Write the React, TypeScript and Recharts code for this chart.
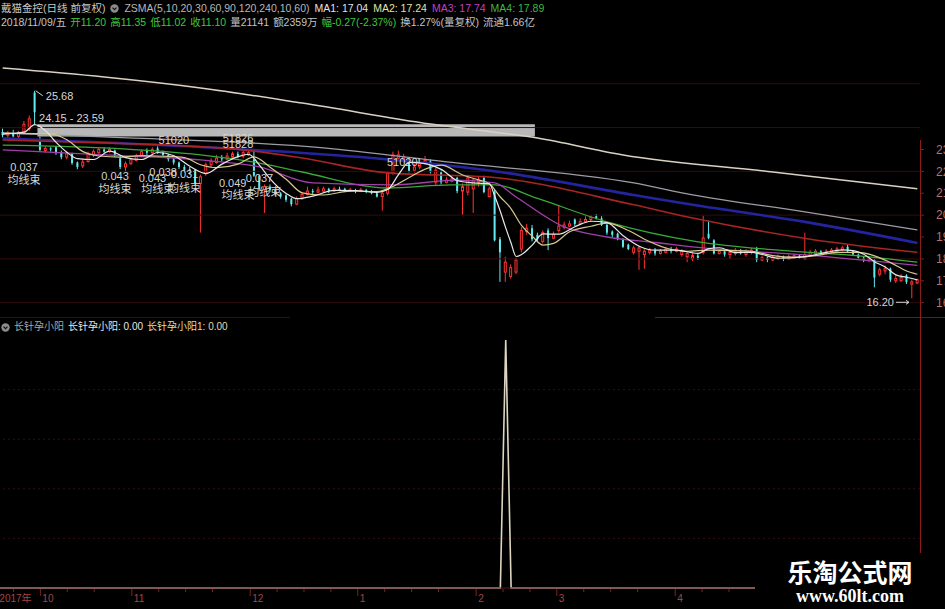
import React from "react";
import {
  ComposedChart,
  Bar,
  Line,
  XAxis,
  YAxis,
  ReferenceArea,
  ReferenceLine,
  ReferenceDot,
} from "recharts";

// 日K (前复权), one entry per trading day, Sep 2017 .. Jun 2018
const opens = [
  23.8, 23.65, 23.75, 23.6, 23.78, 23.95, 25.6, 23.43, 22.95, 23.05,
  23.1, 22.88, 22.65, 22.8, 22.4, 22.25, 22.45, 22.75, 22.85, 23.0,
  22.9, 22.95, 22.6, 22.2, 22.35, 22.5, 22.7, 22.95, 22.85, 23.05,
  22.85, 22.75, 22.55, 22.4, 22.2, 22.1, 22.05, 21.45, 21.9, 22.3,
  22.4, 22.6, 22.55, 22.65, 22.8, 22.7, 22.75, 22.55, 21.8, 21.15,
  21.3, 21.15, 21.0, 20.9, 20.75, 20.5, 20.75, 20.95, 21.1, 21.05,
  21.1, 21.2, 21.1, 21.2, 21.2, 21.1, 21.15, 21.1, 21.15, 21.1,
  21.0, 20.85, 21.0, 21.9, 22.6, 22.5, 22.45, 22.05, 22.2, 22.4,
  22.45, 21.5, 21.95, 21.5, 21.55, 21.7, 21.1, 21.05, 21.2, 21.5,
  21.7, 20.85, 21.05, 18.9, 17.4, 17.2, 17.4, 18.45, 19.25, 19.4,
  19.1, 18.8, 19.3, 18.95, 19.3, 19.45, 19.5, 19.8, 19.6, 19.7,
  19.8, 19.95, 19.85, 19.55, 19.25, 19.15, 18.9, 18.65, 18.3, 18.35,
  18.2, 18.3, 18.4, 18.25, 18.3, 18.45, 18.35, 18.2, 18.1, 18.0,
  18.15, 18.3, 19.15, 18.85, 18.25, 18.35, 18.2, 18.25, 18.35, 18.2,
  18.3, 18.45, 17.95, 18.05, 17.95, 18.0, 18.1, 18.0, 18.05, 18.15,
  18.0, 18.15, 18.25, 18.35, 18.25, 18.3, 18.35, 18.4, 18.55, 18.35,
  18.2, 18.05, 17.95, 17.95, 17.3, 17.45, 17.55, 17.0, 17.0, 17.25,
  16.85, 16.9,
];
const highs = [
  23.95, 23.85, 23.9, 23.85, 24.3, 24.55, 25.68, 23.59, 23.15, 23.1,
  23.15, 22.95, 22.9, 22.85, 22.45, 22.55, 22.9, 23.0, 23.1, 23.1,
  23.1, 23.0, 22.7, 22.45, 22.6, 22.8, 23.0, 23.05, 23.1, 23.15,
  22.95, 22.8, 22.6, 22.45, 22.3, 22.2, 22.1, 21.85, 22.4, 22.6,
  22.75, 22.75, 22.85, 22.9, 22.9, 22.95, 23.0, 22.9, 21.85, 21.4,
  21.4, 21.2, 21.05, 20.95, 20.8, 20.85, 21.05, 21.3, 21.2, 21.3,
  21.3, 21.25, 21.3, 21.3, 21.25, 21.25, 21.2, 21.25, 21.2, 21.15,
  21.05, 21.1, 22.0, 22.9, 22.95, 22.8, 22.6, 22.35, 22.55, 22.7,
  22.55, 22.15, 22.05, 21.75, 21.8, 21.75, 21.45, 21.85, 21.7, 21.75,
  21.8, 21.3, 21.15, 19.0, 18.1, 17.75, 18.05, 19.45, 19.6, 19.55,
  19.2, 19.3, 19.4, 19.25, 20.45, 19.7, 19.75, 19.85, 19.85, 19.95,
  20.0, 20.05, 19.95, 19.6, 19.3, 19.2, 18.95, 18.7, 18.6, 18.6,
  18.45, 18.5, 18.5, 18.45, 18.55, 18.55, 18.55, 18.45, 18.35, 18.3,
  18.25, 19.98, 19.75, 18.9, 18.45, 18.45, 18.4, 18.5, 18.45, 18.45,
  18.5, 18.55, 18.15, 18.1, 18.15, 18.2, 18.15, 18.2, 18.25, 18.2,
  19.2, 18.4, 18.45, 18.4, 18.45, 18.5, 18.55, 18.6, 18.65, 18.4,
  18.25, 18.1, 18.1, 18.0, 17.6, 17.7, 17.6, 17.25, 17.3, 17.3,
  17.05, 17.1,
];
const lows = [
  23.55, 23.5, 23.55, 23.5, 23.7, 23.85, 24.15, 22.9, 22.85, 22.9,
  22.75, 22.55, 22.55, 22.3, 22.1, 22.15, 22.4, 22.65, 22.8, 22.85,
  22.85, 22.65, 22.1, 21.95, 22.3, 22.45, 22.65, 22.75, 22.8, 22.8,
  22.7, 22.45, 22.3, 22.1, 21.95, 21.85, 21.35, 19.2, 21.8, 22.2,
  22.35, 22.45, 22.5, 22.55, 22.6, 22.6, 22.7, 21.75, 21.1, 20.1,
  21.05, 20.85, 20.75, 20.6, 20.4, 20.45, 20.7, 20.9, 20.95, 21.0,
  21.05, 21.0, 21.05, 21.1, 21.05, 21.05, 21.0, 21.05, 21.0, 20.95,
  20.8, 20.2, 20.9, 21.85, 22.5, 22.4, 21.95, 21.95, 22.1, 22.3,
  21.9, 21.35, 21.4, 21.45, 21.5, 21.0, 20.0, 20.9, 20.1, 21.3,
  21.0, 20.8, 18.8, 16.95, 16.95, 17.1, 17.3, 18.3, 19.1, 18.8,
  18.8, 18.7, 18.4, 18.9, 19.2, 19.35, 19.45, 19.5, 19.55, 19.65,
  19.7, 19.8, 19.5, 19.1, 19.0, 18.85, 18.5, 18.4, 18.2, 17.5,
  17.55, 18.2, 18.15, 18.2, 18.25, 18.25, 18.3, 18.1, 17.85, 17.9,
  17.95, 18.2, 18.9, 18.2, 18.2, 18.1, 18.0, 18.15, 18.2, 18.1,
  18.2, 17.85, 17.9, 17.85, 17.9, 17.95, 17.9, 17.95, 18.0, 18.0,
  17.95, 18.1, 18.2, 18.2, 18.2, 18.25, 18.3, 18.35, 18.3, 18.15,
  17.95, 17.85, 17.85, 16.7, 17.2, 17.3, 16.95, 16.9, 16.95, 16.85,
  16.2, 16.85,
];
const closes = [
  23.65, 23.75, 23.6, 23.78, 24.15, 24.4, 24.7, 22.98, 23.05, 23.0,
  22.85, 22.65, 22.8, 22.38, 22.2, 22.42, 22.8, 22.9, 23.0, 22.9,
  23.0, 22.7, 22.2, 22.35, 22.55, 22.7, 22.9, 22.85, 23.0, 22.85,
  22.75, 22.55, 22.4, 22.2, 22.05, 21.95, 21.45, 21.75, 22.3, 22.45,
  22.6, 22.55, 22.7, 22.8, 22.7, 22.85, 22.85, 21.8, 21.2, 21.3,
  21.15, 20.95, 20.85, 20.7, 20.5, 20.75, 20.95, 21.1, 21.05, 21.15,
  21.2, 21.1, 21.2, 21.15, 21.1, 21.15, 21.1, 21.15, 21.1, 21.0,
  20.85, 21.0, 21.9, 22.75, 22.75, 22.65, 22.0, 22.2, 22.4, 22.5,
  22.0, 22.05, 21.5, 21.6, 21.65, 21.1, 21.3, 21.7, 21.6, 21.6,
  21.05, 21.2, 18.85, 18.3, 17.85, 17.6, 17.95, 19.3, 19.4, 18.9,
  18.9, 19.2, 18.95, 19.1, 19.5, 19.55, 19.6, 19.6, 19.7, 19.8,
  19.9, 19.85, 19.55, 19.2, 19.1, 18.9, 18.55, 18.45, 18.5, 18.5,
  18.35, 18.4, 18.25, 18.35, 18.45, 18.35, 18.45, 18.35, 18.25, 18.15,
  18.05, 18.95, 18.95, 18.25, 18.35, 18.2, 18.3, 18.35, 18.25, 18.35,
  18.4, 17.95, 18.05, 17.95, 18.05, 18.1, 18.0, 18.1, 18.15, 18.05,
  18.2, 18.3, 18.35, 18.25, 18.35, 18.4, 18.45, 18.5, 18.35, 18.2,
  18.05, 17.95, 18.0, 17.15, 17.5, 17.55, 17.05, 17.1, 17.15, 16.95,
  16.95, 17.05,
];

// moving averages: [day index, value]
const ma5Pts = [
  [0, 23.7], [4, 23.79], [6, 24.13], [8, 23.86], [10, 23.32], [12, 22.87], [14, 22.58],
  [17, 22.54], [20, 22.92], [23, 22.63], [26, 22.54], [29, 22.86], [32, 22.71], [35, 22.23],
  [38, 21.9], [41, 22.33], [44, 22.67], [46, 22.78], [48, 22.28], [50, 21.66], [53, 20.99],
  [55, 20.75], [58, 20.87], [62, 21.13], [66, 21.12], [70, 21.04], [72, 21.17], [74, 21.85],
  [76, 22.41], [79, 22.35], [82, 22.09], [85, 21.58], [88, 21.47], [91, 21.43], [92, 20.86],
  [93, 20.2], [94, 19.45], [95, 18.76], [96, 18.11], [97, 18.2], [99, 18.63], [101, 19.14],
  [104, 19.13], [107, 19.47], [110, 19.72], [113, 19.66], [116, 19.06], [119, 18.58],
  [122, 18.4], [126, 18.4], [130, 18.25], [132, 18.47], [134, 18.51], [137, 18.29],
  [140, 18.3], [142, 18.2], [145, 18.03], [150, 18.1], [154, 18.3], [157, 18.41],
  [159, 18.38], [161, 18.21], [163, 17.87], [165, 17.63], [167, 17.27], [169, 17.16], [171, 17.04],
];
const ma10Pts = [
  [0, 23.75], [9, 23.71], [12, 23.44], [15, 22.9], [18, 22.7], [22, 22.65], [26, 22.72],
  [30, 22.69], [34, 22.63], [37, 22.3], [40, 22.17], [44, 22.33], [47, 22.66], [50, 22.19],
  [53, 21.64], [56, 21.02], [60, 20.92], [65, 21.1], [70, 21.08], [73, 21.31], [76, 21.72],
  [79, 22.1], [82, 22.28], [86, 21.83], [89, 21.61], [91, 21.43], [93, 20.84], [95, 20.31],
  [97, 19.53], [99, 19.04], [101, 18.63], [103, 18.71], [106, 19.24], [110, 19.49],
  [113, 19.63], [117, 19.3], [120, 18.9], [124, 18.5], [128, 18.35], [132, 18.4],
  [136, 18.38], [140, 18.35], [144, 18.15], [148, 18.08], [152, 18.15], [156, 18.3],
  [160, 18.3], [163, 18.14], [166, 17.83], [169, 17.45], [171, 17.3],
];
const ma20Pts = [
  [0, 22.98], [19, 22.75], [37, 22.52], [48, 22.2], [58, 21.47], [73, 21.38], [85, 21.6],
  [92, 21.47], [96, 20.83], [105, 19.46], [113, 19.0], [122, 18.75], [131, 18.5],
  [150, 18.18], [171, 17.7],
];
const ma30Pts = [
  [0, 23.2], [19, 23.07], [37, 22.75], [48, 22.38], [56, 21.97], [72, 21.24], [84, 21.38],
  [92, 21.38], [100, 20.76], [113, 19.69], [130, 18.78], [145, 18.4], [160, 18.14], [171, 17.85],
];
const ma60Pts = [
  [0, 23.43], [19, 23.3], [45, 22.98], [56, 22.61], [72, 21.93], [91, 21.74], [118, 20.47],
  [129, 19.87], [151, 18.9], [171, 18.3],
];
const ma90Pts = [
  [0, 23.5], [37, 23.11], [69, 22.61], [93, 21.97], [118, 20.92], [129, 20.47],
  [150, 19.69], [171, 18.73],
];
const ma120Pts = [
  [0, 23.75], [19, 23.57], [60, 23.07], [83, 22.43], [118, 21.47], [129, 20.92],
  [150, 20.15], [171, 19.32],
];
const ma240Pts = [
  [0, 26.72], [19, 26.31], [37, 25.81], [56, 25.12], [80, 24.16], [100, 23.52],
  [116, 22.75], [144, 21.97], [171, 21.2],
];

// 长针孕小阳 signal days
const signalDays = [94];

// unfilled gap
const gapFrom = 7;
const gapTo = 99;
const gapLow = 23.59;
const gapHigh = 24.15;

// formula text marks: day index, price level, text
const noteIdx = [4, 4, 21, 21, 28, 29, 30, 34, 34, 43, 44, 48, 49, 32, 44, 44, 75];
const notePrice = [
  22.02, 21.42, 21.61, 21.01, 21.52, 21.01, 21.79, 21.7, 21.06, 21.29, 20.74, 21.52, 20.88,
  23.25, 23.34, 23.07, 22.25,
];
const noteText = [
  "0.037", "均线束", "0.043", "均线束", "0.043", "均线束", "0.038", "0.031", "均线束",
  "0.049", "均线束", "0.037", "均线束", "51020", "51826", "51828", "51020!",
];

const priceTicks = [16, 17, 18, 19, 20, 21, 22, 23];
const priceGrid = [16, 18, 20, 22, 24, 26];
const signalGrid = [0.2, 0.4, 0.6, 0.8];

const monthTicks = [0, 8, 25, 47, 67, 89, 104, 126, 145];
const monthLabels = ["2017年", "10", "11", "12", "1", "2", "3", "4", "5"];
const minorTicks = [3, 13, 18, 30, 35, 40, 52, 57, 62, 72, 77, 82, 94, 99, 109, 114, 119, 131, 136, 141, 150, 155, 160, 165];
const axisTicks = [...monthTicks, ...minorTicks].sort((a, b) => a - b);

const UP = "#ff3434";
const DOWN = "#62eaf0";
const AXIS = "#8a1c1c";
const NOTE = "#d6d6d6";
const BAND = 920 / closes.length;

const maLines = [
  { key: "ma240", color: "#d9d2c2", w: 1.5 },
  { key: "ma120", color: "#9c9ca6", w: 1.3 },
  { key: "ma90", color: "#2424a0", w: 2.6 },
  { key: "ma60", color: "#a82424", w: 1.6 },
  { key: "ma30", color: "#3aa83a", w: 1.3 },
  { key: "ma20", color: "#a040a8", w: 1.3 },
  { key: "ma10", color: "#d6c88e", w: 1.2 },
  { key: "ma5", color: "#e8e8e8", w: 1.2 },
];

const toMap = (pts: number[][]) => new Map(pts.map(([i, v]) => [i, v]));
const maMaps: Record<string, Map<number, number>> = {
  ma5: toMap(ma5Pts),
  ma10: toMap(ma10Pts),
  ma20: toMap(ma20Pts),
  ma30: toMap(ma30Pts),
  ma60: toMap(ma60Pts),
  ma90: toMap(ma90Pts),
  ma120: toMap(ma120Pts),
  ma240: toMap(ma240Pts),
};

const rows = closes.map((c, i) => {
  const r: any = { i, o: opens[i], h: highs[i], l: lows[i], c, sig: signalDays.includes(i) ? 1 : 0 };
  for (const k in maMaps) r[k] = maMaps[k].get(i) ?? null;
  return r;
});

const highIdx = highs.indexOf(Math.max(...highs));
const lowIdx = lows.indexOf(Math.min(...lows));

function Candle(props: any) {
  const { x, y, width, height, payload } = props;
  if (!payload) return null;
  const { o, h, l, c } = payload;
  const top = Math.min(y, y + height);
  const full = Math.abs(height);
  const span = h - l || 1;
  const py = (v: number) => top + ((h - v) / span) * full;
  const up = c >= o;
  const color = up ? UP : DOWN;
  const mid = x + width / 2;
  const bodyTop = py(Math.max(o, c));
  const bodyH = Math.max(1, py(Math.min(o, c)) - bodyTop);
  return (
    <g>
      <line x1={mid} x2={mid} y1={top} y2={top + full} stroke={color} strokeWidth={1} />
      <rect
        x={x + 0.5}
        y={bodyTop}
        width={Math.max(1, width - 1)}
        height={bodyH}
        fill={up ? "#000" : color}
        stroke={up ? color : "none"}
        strokeWidth={1}
      />
    </g>
  );
}

function MonthTick(props: any) {
  const { x, y, payload } = props;
  const k = monthTicks.indexOf(payload.value);
  const left = x - BAND / 2;
  return (
    <g>
      <line x1={left} x2={left} y1={y + 1} y2={y + (k >= 0 ? 8 : 4)} stroke={AXIS} />
      {k >= 0 && (
        <text x={left + 2} y={y + 14} fill="#a84444" fontSize={10}>
          {monthLabels[k]}
        </text>
      )}
    </g>
  );
}

const headTop: [string, string][] = [
  ["ZSMA(5,10,20,30,60,90,120,240,10,60)", "#b8b8b8"],
  ["MA1: 17.04", "#e2e2e2"],
  ["MA2: 17.24", "#e8e0a8"],
  ["MA3: 17.74", "#c040c4"],
  ["MA4: 17.89", "#40b840"],
];
const headSub: [string, string][] = [
  ["2018/11/09/五", "#c4c4c4"],
  ["开11.20", "#3ec83e"],
  ["高11.35", "#3ec83e"],
  ["低11.02", "#3ec83e"],
  ["收11.10", "#3ec83e"],
  ["量21141", "#c4c4c4"],
  ["额2359万", "#c4c4c4"],
  ["幅-0.27(-2.37%)", "#3ec83e"],
  ["换1.27%(量复权)", "#c4c4c4"],
  ["流通1.66亿", "#c4c4c4"],
];
const headLow: [string, string][] = [
  ["长针孕小阳", "#a8a8a8"],
  ["长针孕小阳: 0.00", "#e8e8e8"],
  ["长针孕小阳1: 0.00", "#e2dcaa"],
];

function Dot() {
  return (
    <svg width={9} height={9} style={{ flex: "none" }}>
      <circle cx={4.5} cy={4.5} r={4.2} fill="#8c8c8c" />
      <polyline points="2.5,3.6 4.5,5.6 6.5,3.6" stroke="#111" strokeWidth={1.2} fill="none" />
    </svg>
  );
}

const rowStyle = (top: number, gap: number, size: number): React.CSSProperties => ({
  position: "absolute",
  left: 1,
  top,
  display: "flex",
  alignItems: "center",
  gap,
  fontSize: size,
  lineHeight: "12px",
  whiteSpace: "nowrap",
});

export default function App() {
  return (
    <div
      style={{
        position: "fixed",
        left: 0,
        top: 0,
        width: 945,
        height: 609,
        background: "#000",
        overflow: "hidden",
        fontFamily: '"Liberation Sans", "Noto Sans CJK SC", sans-serif',
      }}
    >
      <div style={{ position: "absolute", left: 0, top: 0 }}>
        <ComposedChart
          width={945}
          height={318}
          data={rows}
          margin={{ top: 40, right: 0, bottom: 0, left: 0 }}
          barCategoryGap={1}
        >
          <XAxis dataKey="i" hide />
          <YAxis
            orientation="right"
            domain={[15.3, 28]}
            allowDataOverflow
            ticks={priceTicks}
            width={25}
            axisLine={false}
            tickLine={{ stroke: AXIS }}
            tickSize={4}
            tickMargin={12}
            tick={{ fill: "#b87070", fontSize: 12 }}
          />
          {priceGrid.map((v) => (
            <ReferenceLine key={v} y={v} stroke="#360b0b" strokeWidth={1} />
          ))}
          <ReferenceArea
            x1={gapFrom}
            x2={gapTo}
            y1={gapLow}
            y2={gapHigh}
            fill="#b8b8b8"
            fillOpacity={1}
            stroke="none"
          />
          {maLines.map((m) => (
            <Line
              key={m.key}
              dataKey={m.key}
              type="monotone"
              stroke={m.color}
              strokeWidth={m.w}
              dot={false}
              connectNulls
              isAnimationActive={false}
            />
          ))}
          <Bar dataKey={(d: any) => [d.l, d.h]} shape={Candle} isAnimationActive={false} />
          <ReferenceDot
            x={highIdx}
            y={highs[highIdx]}
            r={0}
            shape={(p: any) => (
              <g>
                <polyline points={`${p.cx + 1},${p.cy} ${p.cx + 8},${p.cy + 5}`} stroke={NOTE} fill="none" />
                <text x={p.cx + 11} y={p.cy + 9} fill={NOTE} fontSize={11}>
                  {highs[highIdx].toFixed(2)}
                </text>
              </g>
            )}
          />
          <ReferenceDot
            x={gapFrom}
            y={gapHigh}
            r={0}
            shape={(p: any) => (
              <text x={p.cx - 1} y={p.cy - 2} fill={NOTE} fontSize={11}>
                {`${gapHigh.toFixed(2)} - ${gapLow.toFixed(2)}`}
              </text>
            )}
          />
          <ReferenceDot
            x={lowIdx}
            y={lows[lowIdx]}
            r={0}
            shape={(p: any) => (
              <g>
                <text x={p.cx - 18} y={p.cy + 8} fill={NOTE} fontSize={11} textAnchor="end">
                  {lows[lowIdx].toFixed(2)}
                </text>
                <line x1={p.cx - 16} x2={p.cx - 3} y1={p.cy + 4} y2={p.cy + 4} stroke={NOTE} />
                <polyline
                  points={`${p.cx - 6},${p.cy + 2} ${p.cx - 3},${p.cy + 4} ${p.cx - 6},${p.cy + 6}`}
                  stroke={NOTE}
                  fill="none"
                />
              </g>
            )}
          />
          {noteText.map((t, k) => (
            <ReferenceDot
              key={k}
              x={noteIdx[k]}
              y={notePrice[k]}
              r={0}
              shape={(p: any) => (
                <text x={p.cx} y={p.cy} fill={NOTE} fontSize={11} textAnchor="middle">
                  {t}
                </text>
              )}
            />
          ))}
        </ComposedChart>
      </div>

      <div style={{ position: "absolute", left: 0, top: 318 }}>
        <ComposedChart
          width={945}
          height={291}
          data={rows}
          margin={{ top: 22, right: 0, bottom: 0, left: 0 }}
        >
          <XAxis
            dataKey="i"
            ticks={axisTicks}
            interval={0}
            height={21}
            axisLine={{ stroke: "#5a1212" }}
            tickLine={false}
            tickSize={0}
            tickMargin={0}
            tick={<MonthTick />}
          />
          <YAxis
            orientation="right"
            domain={[0, 1]}
            width={25}
            axisLine={false}
            tickLine={false}
            tick={false}
          />
          {signalGrid.map((v) => (
            <ReferenceLine key={v} y={v} stroke="#3a0d0d" strokeDasharray="2 3" />
          ))}
          <Line
            dataKey="sig"
            type="linear"
            stroke="#ddd6c0"
            strokeWidth={1.6}
            dot={false}
            isAnimationActive={false}
          />
        </ComposedChart>
      </div>

      {/* header lines */}
      <div style={rowStyle(2, 5, 10.5)}>
        <span style={{ color: "#c8c8c8" }}>戴猫金控(日线 前复权)</span>
        <Dot />
        {headTop.map(([t, c]) => (
          <span key={t} style={{ color: c }}>
            {t}
          </span>
        ))}
      </div>
      <div style={rowStyle(16, 4, 10.5)}>
        {headSub.map(([t, c]) => (
          <span key={t} style={{ color: c }}>
            {t}
          </span>
        ))}
      </div>

      <div style={{ position: "absolute", left: 0, top: 317, width: 290, height: 1, background: "#3c0c0c" }} />
      <div style={{ position: "absolute", left: 655, top: 317, width: 290, height: 1, background: "#701616" }} />
      <div style={rowStyle(321, 4, 10)}>
        <Dot />
        {headLow.map(([t, c]) => (
          <span key={t} style={{ color: c }}>
            {t}
          </span>
        ))}
      </div>

      <div style={{ position: "absolute", left: 920, top: 140, width: 1, height: 414, background: AXIS }} />

      {/* watermark */}
      <div
        style={{
          position: "absolute",
          left: 755,
          top: 553,
          width: 190,
          height: 56,
          background: "#000",
          color: "#fff",
          textAlign: "center",
        }}
      >
        <div style={{ fontFamily: '"Noto Sans CJK SC"', fontWeight: 700, fontSize: 25, lineHeight: "30px", marginTop: 3 }}>
          乐淘公式网
        </div>
        <div style={{ fontFamily: '"Liberation Serif", serif', fontWeight: 700, fontSize: 18, lineHeight: "20px" }}>
          www.60lt.com
        </div>
      </div>
    </div>
  );
}
